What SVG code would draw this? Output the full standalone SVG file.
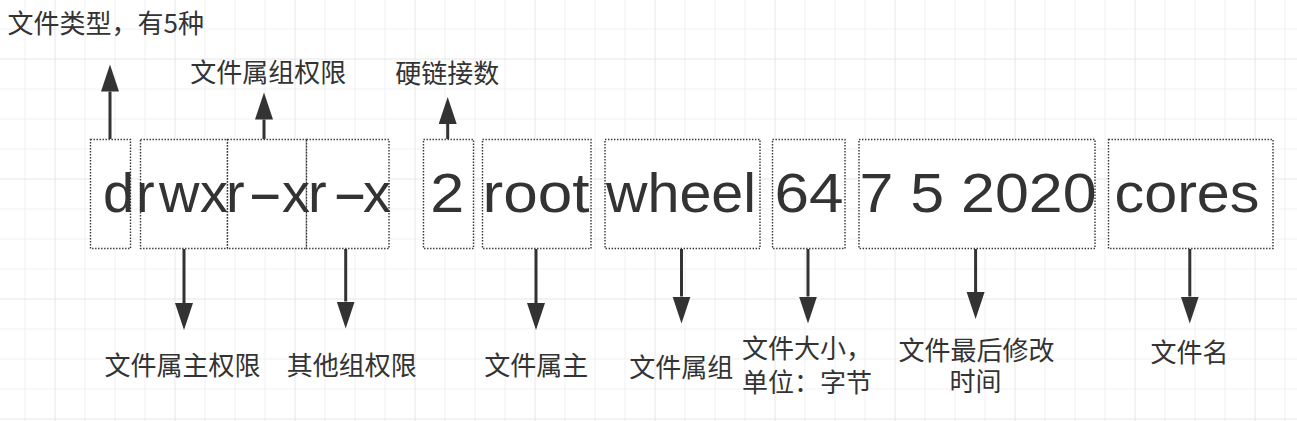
<svg xmlns="http://www.w3.org/2000/svg" width="1297" height="421" viewBox="0 0 1297 421">
<style>
.box{fill:#fff;stroke:#333;stroke-width:1.4;stroke-dasharray:1.4 1.6}
.big{font-family:"Liberation Sans",Arial,sans-serif;font-size:56px;fill:#333;text-anchor:middle}
.lbl{font-family:"Noto Sans CJK SC","Liberation Sans",sans-serif;font-size:26px;fill:#333;text-anchor:middle}
.arr{stroke:#333;stroke-width:3;fill:none}
.gmin{stroke:#f1f1f1;stroke-width:1;fill:none}
.gmaj{stroke:#e6e6e6;stroke-width:1;fill:none}
</style>
<defs>
<marker id="ah" markerUnits="userSpaceOnUse" markerWidth="28" markerHeight="20" refX="0" refY="9" orient="auto">
<path d="M0,0 L27,9 L0,18 Z" fill="#333"/>
</marker>
</defs>
<rect width="1297" height="421" fill="#fff"/>
<g id="grid">
<path class="gmin" d="M25,0V421M85,0V421M115,0V421M145,0V421M205,0V421M235,0V421M265,0V421M325,0V421M355,0V421M385,0V421M445,0V421M475,0V421M505,0V421M565,0V421M595,0V421M625,0V421M685,0V421M715,0V421M745,0V421M805,0V421M835,0V421M865,0V421M925,0V421M955,0V421M985,0V421M1045,0V421M1075,0V421M1105,0V421M1165,0V421M1195,0V421M1225,0V421M1285,0V421M0,29H1297M0,89H1297M0,119H1297M0,149H1297M0,209H1297M0,239H1297M0,269H1297M0,329H1297M0,359H1297M0,389H1297"/>
<path class="gmaj" d="M55,0V421M175,0V421M295,0V421M415,0V421M535,0V421M655,0V421M775,0V421M895,0V421M1015,0V421M1135,0V421M1255,0V421M0,59H1297M0,179H1297M0,299H1297M0,419H1297"/>
</g>
<g id="node-type"><rect class="box" x="90.5" y="139.5" width="40" height="109"/></g>
<g id="node-owner-perm"><rect class="box" x="140.5" y="139.5" width="87" height="109"/></g>
<g id="node-group-perm"><rect class="box" x="227.5" y="139.5" width="79" height="109"/></g>
<g id="node-other-perm"><rect class="box" x="306.5" y="139.5" width="82.5" height="109"/></g>
<g id="node-perm-text"><text class="big" style="text-anchor:start" y="212.3"><tspan x="103 136 159 200 226">drwxr</tspan><tspan x="247.2" textLength="36" lengthAdjust="spacingAndGlyphs">-</tspan><tspan x="282 308">xr</tspan><tspan x="332" textLength="36" lengthAdjust="spacingAndGlyphs">-</tspan><tspan x="363">x</tspan></text></g>
<g id="node-links"><rect class="box" x="423.5" y="139.5" width="50" height="109"/><text class="big" x="447.3" y="212.3" textLength="34" lengthAdjust="spacingAndGlyphs">2</text></g>
<g id="node-owner"><rect class="box" x="482.5" y="139.5" width="108.5" height="109"/><text class="big" x="536" y="212.3" textLength="107" lengthAdjust="spacingAndGlyphs">root</text></g>
<g id="node-group"><rect class="box" x="605" y="139.5" width="155" height="109"/><text class="big" x="681" y="212.3" textLength="150" lengthAdjust="spacingAndGlyphs">wheel</text></g>
<g id="node-size"><rect class="box" x="772.5" y="139.5" width="72.5" height="109"/><text class="big" x="809" y="212.3" textLength="69" lengthAdjust="spacingAndGlyphs">64</text></g>
<g id="node-date"><rect class="box" x="859" y="139.5" width="236" height="109"/><text class="big" x="978" y="212.3" textLength="237" lengthAdjust="spacingAndGlyphs">7 5 2020</text></g>
<g id="node-name"><rect class="box" x="1108.5" y="139.5" width="164.5" height="109"/><text class="big" x="1187" y="212.3" textLength="145" lengthAdjust="spacingAndGlyphs">cores</text></g>
<g id="connectors">
<line class="arr" x1="110" y1="139" x2="110" y2="91.5" marker-end="url(#ah)"/>
<line class="arr" x1="264" y1="139" x2="264" y2="119.5" marker-end="url(#ah)"/>
<line class="arr" x1="447.7" y1="139" x2="447.7" y2="124" marker-end="url(#ah)"/>
<line class="arr" x1="184" y1="249" x2="184" y2="303" marker-end="url(#ah)"/>
<line class="arr" x1="345.7" y1="249" x2="345.7" y2="301.5" marker-end="url(#ah)"/>
<line class="arr" x1="536" y1="249" x2="536" y2="303" marker-end="url(#ah)"/>
<line class="arr" x1="681.5" y1="249" x2="681.5" y2="296.5" marker-end="url(#ah)"/>
<line class="arr" x1="808" y1="249" x2="808" y2="296.5" marker-end="url(#ah)"/>
<line class="arr" x1="975.6" y1="249" x2="975.6" y2="292" marker-end="url(#ah)"/>
<line class="arr" x1="1189.8" y1="249" x2="1189.8" y2="296.5" marker-end="url(#ah)"/>
</g>
<g id="label-type"><text class="lbl" style="text-anchor:start" x="7.5" y="33.3">文件类型，有5种</text></g>
<g id="label-group-perm"><text class="lbl" x="268.3" y="81.7">文件属组权限</text></g>
<g id="label-links"><text class="lbl" x="447.2" y="83.3">硬链接数</text></g>
<g id="label-owner-perm"><text class="lbl" x="182.5" y="375">文件属主权限</text></g>
<g id="label-other-perm"><text class="lbl" x="351.7" y="375">其他组权限</text></g>
<g id="label-owner"><text class="lbl" x="536.3" y="375">文件属主</text></g>
<g id="label-group"><text class="lbl" x="681.3" y="376.7">文件属组</text></g>
<g id="label-size"><text class="lbl"><tspan x="807" y="358.3">文件大小，</tspan><tspan x="807" y="391.7">单位：字节</tspan></text></g>
<g id="label-date"><text class="lbl"><tspan x="976.5" y="360">文件最后修改</tspan><tspan x="975.5" y="391">时间</tspan></text></g>
<g id="label-name"><text class="lbl" x="1189.6" y="361.7">文件名</text></g>
</svg>
